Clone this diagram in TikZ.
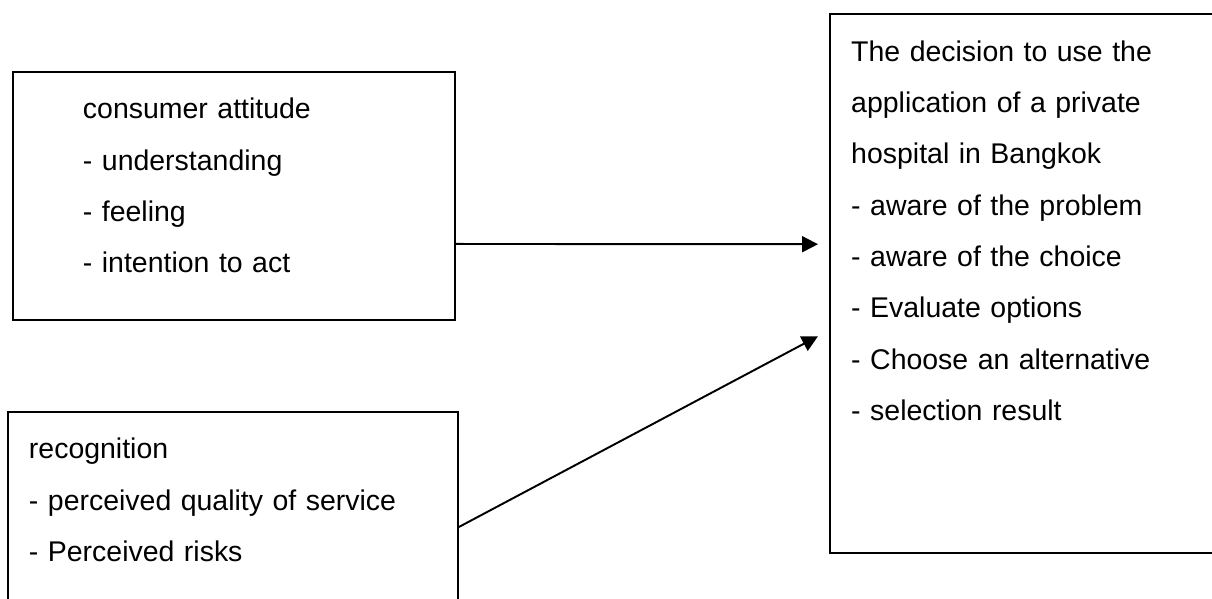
\documentclass[tikz,border=0pt]{standalone}
\usepackage{fontspec}
\setmainfont{Liberation Sans}
\usetikzlibrary{arrows.meta}

\begin{document}
\begin{tikzpicture}[
  x=1cm,y=1cm,>={Triangle[length=3.2mm,width=3.2mm]},
  box/.style={draw,line width=1.1pt,anchor=north west,align=left,inner ysep=0pt,
    inner xsep=0.42cm,text height=0.94cm,font=\fontsize{16.2}{29.2}\selectfont},
  link/.style={->,line width=1.1pt}
]
\clip (0,0) rectangle (24.24,11.98);
\node[box,inner xsep=1.4cm,text width=6.04cm,text depth=4.02cm] (attitude) at (0.24,10.56)
  {consumer attitude\\- understanding\\- feeling\\- intention to act};
\node[box,text width=8.16cm,text depth=2.9cm] (recognition) at (0.14,3.76)
  {recognition\\- perceived quality of service\\- Perceived risks};
\node[box,line width=1.4pt,text width=6.86cm,text depth=9.84cm] (decision) at (16.58,11.72)
  {The decision to use the\\application of a private\\hospital in Bangkok\\- aware of the problem\\
   - aware of the choice\\- Evaluate options\\- Choose an alternative\\- selection result};
\draw[link] ([yshift=-0.96cm]attitude.east) -- ([xshift=-0.22cm,yshift=0.79cm]decision.west);
\draw[link] ([yshift=-0.38cm]recognition.east) -- ([xshift=-0.22cm,yshift=-1.05cm]decision.west);
\end{tikzpicture}
\end{document}
